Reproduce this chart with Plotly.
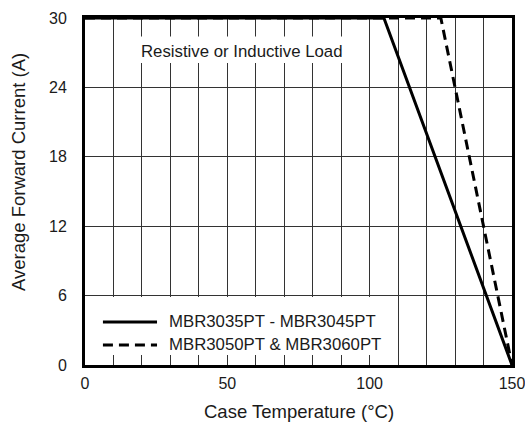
import plotly.graph_objects as go

# Data
temp_solid = [0, 105, 150]
curr_solid = [30, 30, 0]
temp_dash = [0, 125, 150]
curr_dash = [30, 30, 0]
name_solid = "MBR3035PT - MBR3045PT"
name_dash = "MBR3050PT & MBR3060PT"
x_ticks = [0, 50, 100, 150]
y_ticks = [0, 6, 12, 18, 24, 30]

DASH = "10px,6px"
TXT = "#1a1a1a"
font = "Liberation Sans, Arial, Helvetica, sans-serif"

fig = go.Figure()
fig.add_trace(go.Scatter(x=temp_solid, y=curr_solid, mode="lines", name=name_solid,
                         line=dict(color="black", width=3), showlegend=False))
fig.add_trace(go.Scatter(x=temp_dash, y=curr_dash, mode="lines", name=name_dash,
                         line=dict(color="black", width=3, dash=DASH), showlegend=False))

fig.update_layout(
    width=525, height=425,
    margin=dict(l=85, r=13, t=18, b=60, autoexpand=False),
    paper_bgcolor="white", plot_bgcolor="white",
    font=dict(family=font, size=16, color=TXT),
    showlegend=False,
    xaxis=dict(range=[0, 150], tickvals=x_ticks, showgrid=False, zeroline=False,
               ticks="", ticklen=0, ticklabelstandoff=2, automargin=False,
               ticklabeloverflow="allow", tickfont=dict(size=16),
               minor=dict(dtick=10, showgrid=True, gridcolor="#333", gridwidth=1, ticks=""),
               showline=True, linecolor="black", linewidth=3, mirror=True),
    yaxis=dict(range=[0, 30], tickvals=y_ticks, showgrid=True, gridcolor="#333", gridwidth=1,
               zeroline=False, ticks="", ticklen=0, ticklabelstandoff=12, automargin=False,
               ticklabeloverflow="allow", tickfont=dict(size=16),
               showline=True, linecolor="black", linewidth=3, mirror=True),
)

# axis titles
fig.add_annotation(x=0.5, y=-0.1326, xref="paper", yref="paper", text="Case Temperature (°C)",
                   showarrow=False, font=dict(size=18.5, color=TXT), xanchor="center", yanchor="middle")
fig.add_annotation(x=-0.157, y=0.556, xref="paper", yref="paper", text="Average Forward Current (A)",
                   showarrow=False, textangle=-90, font=dict(size=18.5, color=TXT),
                   xanchor="center", yanchor="middle")

# load note
fig.add_shape(type="rect", x0=19.3, x1=90.6, y0=26.1, y1=28.4, xref="x", yref="y",
              fillcolor="white", line=dict(width=0), layer="between")
fig.add_annotation(x=55, y=27.1, xref="x", yref="y", text="Resistive or Inductive Load",
                   showarrow=False, font=dict(size=16.8, color=TXT))

# legend box
fig.add_shape(type="rect", x0=0.5, x1=103.6, y0=0.86, y1=5.88, xref="x", yref="y",
              fillcolor="white", line=dict(width=0), layer="between")
legend_rows = [(name_solid, "solid", 3.72), (name_dash, DASH, 1.73)]
for label, dash, yy in legend_rows:
    fig.add_shape(type="line", x0=6.3, x1=25.3, y0=yy, y1=yy, xref="x", yref="y",
                  line=dict(color="black", width=3, dash=dash))
    fig.add_annotation(x=28.8, y=yy, xref="x", yref="y", text=label, showarrow=False,
                       xanchor="left", yanchor="middle", font=dict(size=16.8, color=TXT))

fig.write_html("out.html", config={"displayModeBar": False},
               post_script="document.body.style.margin='0';")
